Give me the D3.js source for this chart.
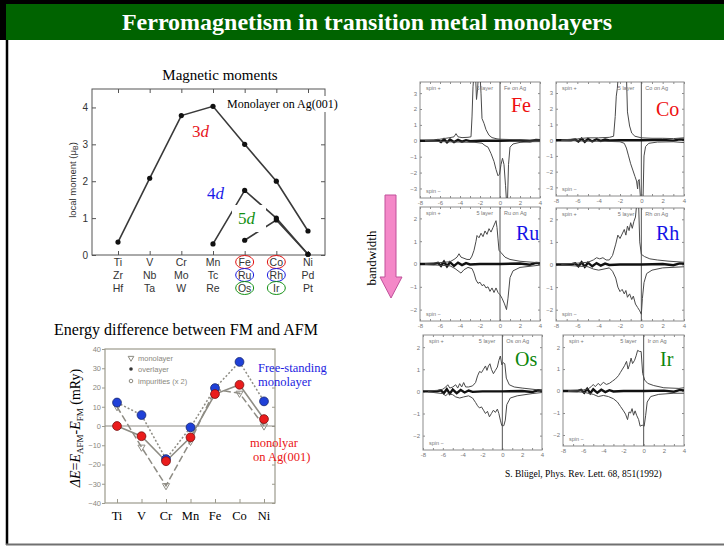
<!DOCTYPE html>
<html><head><meta charset="utf-8">
<script src="https://cdn.jsdelivr.net/npm/d3@7"></script>
<style>body{margin:0;background:#fff}svg{display:block}</style>
</head><body>
<svg id="slide" width="724" height="546"></svg>
<script>
// ---------- data ----------
const row3d = ["Ti","V","Cr","Mn","Fe","Co","Ni"];
const row4d = ["Zr","Nb","Mo","Tc","Ru","Rh","Pd"];
const row5d = ["Hf","Ta","W","Re","Os","Ir","Pt"];
const moment3d = [0.35, 2.08, 3.78, 4.03, 3.0, 2.0, 0.65];
const moment4d = [null, null, null, 0.3, 1.75, 1.0, 0.02];
const moment5d = [null, null, null, null, 0.4, 0.95, 0.02];
const momentTicks = [0, 1, 2, 3, 4];

const energyElems = ["Ti","V","Cr","Mn","Fe","Co","Ni"];
const monolayerDE = [10, -11, -31, -8, 19, 17, 0];
const overlayerDE = [0, -5.3, -18.3, -5.9, 16.6, 21.4, 3.6];
const impurityDE  = [12.2, 5.7, -17.2, -0.7, 19.7, 33.3, 12.8];
const energyTicks = [-40, -30, -20, -10, 0, 10, 20, 30, 40];
const legendItems = ["monolayer", "overlayer", "impurities (x 2)"];

// density of states, [energy (eV), states] for spin up / spin down
const feUp = [[-7.5,0.02],[-6.5,0.05],[-6,0.1],[-5.5,0.15],[-5,0.2],[-4.6,0.25],[-4.4,0.45],[-4.2,0.25],[-3.8,0.2],[-3.2,0.22],[-2.9,0.25],[-2.8,1.5],[-2.7,3.4],[-2.6,4.2],[-2.45,4.2],[-2.35,2.6],[-2.25,3.2],[-2.15,4.2],[-2.0,4.2],[-1.9,3.0],[-1.8,1.4],[-1.6,1.1],[-1.4,0.7],[-1.1,0.35],[-0.8,0.2],[-0.3,0.12],[0,0.1],[1,0.08],[2,0.06],[3,0.05],[4,0.05]];
const feDown = [[-7.5,-0.02],[-6,-0.05],[-4,-0.08],[-2.5,-0.1],[-1.8,-0.15],[-1.5,-0.3],[-1.2,-0.4],[-0.9,-0.8],[-0.6,-1.3],[-0.4,-1.8],[-0.2,-2.2],[-0.05,-2.1],[0.1,-1.5],[0.25,-1.1],[0.4,-1.5],[0.55,-2.8],[0.65,-3.8],[0.75,-3.8],[0.85,-1.5],[1.0,-0.4],[1.3,-0.2],[2,-0.1],[3,-0.06],[4,-0.05]];
const coUp = [[-7.5,0.02],[-6,0.08],[-5.5,0.12],[-5,0.15],[-4,0.15],[-3,0.18],[-2.6,0.25],[-2.45,1.5],[-2.35,2.8],[-2.25,3.3],[-2.15,4.2],[-1.4,4.2],[-1.3,1.8],[-1.1,0.9],[-0.9,0.45],[-0.6,0.25],[0,0.15],[1,0.12],[2,0.12],[3,0.1],[4,0.15]];
const coDown = [[-7.5,-0.02],[-5,-0.06],[-3,-0.08],[-2,-0.1],[-1.6,-0.2],[-1.4,-0.5],[-1.2,-1.0],[-1.0,-1.5],[-0.8,-1.9],[-0.6,-2.3],[-0.45,-2.6],[-0.35,-3.1],[-0.3,-2.6],[-0.2,-2.5],[-0.1,-3.5],[0.0,-4],[0.15,-4],[0.25,-1.0],[0.4,-0.4],[0.7,-0.2],[1.5,-0.12],[3,-0.1],[4,-0.15]];
const ruUp = [[-7.5,0.02],[-6,0.06],[-5,0.1],[-4.6,0.2],[-4.3,0.3],[-4.1,0.45],[-3.9,0.3],[-3.6,0.25],[-3.3,0.2],[-3.0,0.2],[-2.8,0.35],[-2.6,0.6],[-2.4,1.0],[-2.3,1.25],[-2.1,1.15],[-1.9,1.35],[-1.7,1.2],[-1.5,1.45],[-1.3,1.3],[-1.1,1.55],[-0.9,1.4],[-0.7,1.6],[-0.55,1.75],[-0.4,1.9],[-0.3,1.6],[-0.2,1.1],[-0.1,0.6],[0.1,0.5],[0.5,0.3],[1.0,0.2],[2,0.12],[4,0.05]];
const ruDown = [[-7.5,-0.02],[-5,-0.08],[-4.5,-0.2],[-4.2,-0.3],[-3.9,-0.4],[-3.6,-0.25],[-3.2,-0.15],[-2.8,-0.2],[-2.6,-0.4],[-2.4,-0.7],[-2.2,-0.85],[-2.0,-0.8],[-1.8,-0.95],[-1.6,-0.9],[-1.4,-1.05],[-1.2,-1.0],[-1.0,-1.2],[-0.8,-1.05],[-0.6,-1.25],[-0.4,-1.05],[-0.2,-1.25],[0,-1.35],[0.2,-1.5],[0.45,-1.75],[0.65,-2.0],[0.8,-1.5],[1.0,-0.6],[1.3,-0.3],[2,-0.15],[4,-0.05]];
const rhUp = [[-7.5,0.02],[-6,0.06],[-5,0.1],[-4.5,0.2],[-4.2,0.3],[-3.9,0.25],[-3.6,0.3],[-3.3,0.2],[-3.0,0.2],[-2.7,0.4],[-2.4,0.9],[-2.2,1.3],[-2.0,1.15],[-1.8,1.35],[-1.6,1.55],[-1.45,1.3],[-1.3,1.7],[-1.15,1.5],[-1.0,1.85],[-0.85,1.6],[-0.7,1.9],[-0.55,2.1],[-0.45,2.6],[-0.35,3],[-0.25,2.6],[-0.15,1.0],[0,0.45],[0.3,0.35],[0.8,0.25],[1.5,0.2],[2.5,0.15],[4,0.1]];
const rhDown = [[-7.5,-0.02],[-5,-0.1],[-4.5,-0.2],[-4,-0.25],[-3.5,-0.2],[-3,-0.15],[-2.7,-0.3],[-2.4,-0.6],[-2.2,-1.0],[-2.0,-1.2],[-1.8,-1.1],[-1.6,-1.3],[-1.45,-1.15],[-1.3,-1.45],[-1.1,-1.3],[-0.9,-1.55],[-0.75,-1.4],[-0.55,-1.75],[-0.35,-1.9],[-0.15,-2.05],[0.0,-2.2],[0.1,-1.5],[0.25,-0.8],[0.5,-0.4],[1,-0.25],[2,-0.15],[4,-0.1]];
const osUp = [[-7.5,0.02],[-6.5,0.05],[-6,0.1],[-5.7,0.2],[-5.5,0.3],[-5.3,0.15],[-5,0.2],[-4.7,0.3],[-4.5,0.15],[-4.3,0.35],[-4.1,0.2],[-3.9,0.4],[-3.7,0.2],[-3.4,0.2],[-3.0,0.25],[-2.7,0.4],[-2.5,0.7],[-2.3,0.9],[-2.1,0.85],[-1.9,1.0],[-1.7,1.15],[-1.55,0.95],[-1.4,1.15],[-1.25,1.25],[-1.1,1.0],[-0.9,0.8],[-0.7,0.95],[-0.5,1.1],[-0.35,1.4],[-0.2,1.6],[-0.05,1.2],[0.1,1.3],[0.25,1.25],[0.4,0.6],[0.7,0.3],[1.2,0.2],[2,0.15],[4,0.05]];
const osDown = [[-7.5,-0.02],[-6,-0.1],[-5.7,-0.2],[-5.5,-0.1],[-5,-0.15],[-4.7,-0.25],[-4.3,-0.3],[-3.9,-0.25],[-3.4,-0.2],[-3.0,-0.3],[-2.7,-0.5],[-2.5,-0.65],[-2.3,-0.75],[-2.1,-0.7],[-1.9,-0.85],[-1.7,-1.0],[-1.5,-0.9],[-1.3,-1.15],[-1.1,-1.0],[-0.9,-0.85],[-0.7,-0.95],[-0.5,-0.8],[-0.35,-1.0],[-0.2,-1.3],[-0.05,-1.55],[0.15,-1.55],[0.3,-1.3],[0.45,-0.6],[0.8,-0.3],[1.5,-0.2],[3,-0.1],[4,-0.05]];
const irUp = [[-7.5,0.02],[-6,0.05],[-5.5,0.1],[-5.2,0.2],[-5,0.3],[-4.8,0.2],[-4.5,0.35],[-4.3,0.25],[-4.0,0.4],[-3.7,0.3],[-3.4,0.35],[-3.1,0.45],[-2.8,0.55],[-2.5,0.7],[-2.3,0.85],[-2.1,1.0],[-1.9,1.15],[-1.7,1.35],[-1.55,1.0],[-1.4,1.2],[-1.25,1.5],[-1.1,1.25],[-0.9,1.4],[-0.75,1.6],[-0.6,1.85],[-0.4,1.8],[-0.25,1.8],[-0.1,0.8],[0.1,0.5],[0.4,0.35],[1,0.25],[2,0.15],[3.5,0.12],[4,0.15]];
const irDown = [[-7.5,-0.02],[-6,-0.05],[-5,-0.15],[-4.5,-0.25],[-4,-0.2],[-3.5,-0.25],[-3.0,-0.35],[-2.6,-0.5],[-2.3,-0.7],[-2.0,-0.9],[-1.8,-1.05],[-1.6,-1.3],[-1.45,-0.95],[-1.3,-1.0],[-1.15,-0.8],[-1.0,-1.1],[-0.85,-0.9],[-0.7,-1.1],[-0.5,-1.3],[-0.35,-1.6],[-0.15,-1.55],[0.05,-1.6],[0.2,-1.1],[0.35,-0.5],[0.7,-0.25],[1.5,-0.15],[3,-0.1],[4,-0.1]];
// Ag substrate contribution hugging the zero line
const agBand = [[-8,0],[-6.6,0],[-6.2,0.05],[-5.9,-0.08],[-5.6,0.1],[-5.3,-0.1],[-5.0,0.08],[-4.6,-0.08],[-4.2,0.06],[-3.8,-0.05],[-3.4,0.04],[-3.0,-0.02],[-2,0],[0,0],[2,0.02],[3,-0.03],[3.6,0.05],[4,0.03]];
const energyTickLabels = [-8, -6, -4, -2, 0, 2, 4];

// ---------- drawing ----------
const serif = "'Liberation Serif','Times New Roman',serif";
const sans = "'Liberation Sans',Arial,sans-serif";
const svg = d3.select("#slide");

// slide frame and title bar
svg.append("rect").attr("width", 724).attr("height", 546).attr("fill", "#fff");
svg.append("rect").attr("x", 0).attr("y", 0).attr("width", 724).attr("height", 4).attr("fill", "#000");
svg.append("rect").attr("x", 0).attr("y", 0).attr("width", 6).attr("height", 40).attr("fill", "#000");
svg.append("rect").attr("x", 6).attr("y", 4).attr("width", 718).attr("height", 36).attr("fill", "#006300");
svg.append("line").attr("x1", 7).attr("x2", 7).attr("y1", 40).attr("y2", 545).attr("stroke", "#000").attr("stroke-width", 2.5);
svg.append("line").attr("x1", 6).attr("x2", 724).attr("y1", 544.5).attr("y2", 544.5).attr("stroke", "#707070").attr("stroke-width", 2);
svg.append("text").attr("x", 367).attr("y", 30).attr("text-anchor", "middle")
  .attr("font-family", serif).attr("font-weight", "bold").attr("font-size", 24).attr("fill", "#fff")
  .text("Ferromagnetism in transition metal monolayers");

// ===== magnetic moments =====
(function () {
  const g = svg.append("g");
  const x = d3.scalePoint().domain(d3.range(7)).range([118, 308]);
  const y = d3.scaleLinear().domain([0, 4.5]).range([255, 89]);
  const [L, R] = [92, 325];

  g.append("text").attr("x", 220).attr("y", 80).attr("text-anchor", "middle")
    .attr("font-family", serif).attr("font-size", 15).text("Magnetic moments");

  g.append("rect").attr("x", L).attr("y", y(4.5)).attr("width", R - L).attr("height", y(0) - y(4.5))
    .attr("fill", "none").attr("stroke", "#555").attr("stroke-width", 1);

  const styleAxis = a => { a.select(".domain").remove(); a.selectAll("line").attr("stroke", "#555"); a.selectAll("text").attr("font-family", sans).attr("font-size", 10).attr("fill", "#333"); };
  g.append("g").attr("transform", `translate(${L},0)`).call(d3.axisLeft(y).tickValues(momentTicks).tickSize(-4).tickPadding(4).tickFormat(d3.format("d"))).call(styleAxis);
  g.append("g").attr("transform", `translate(${R},0)`).call(d3.axisRight(y).tickValues(momentTicks).tickSize(-4).tickFormat("")).call(styleAxis);
  g.append("g").attr("transform", `translate(0,${y(4.5)})`).call(d3.axisTop(x).tickSize(-4).tickFormat("")).call(styleAxis);
  g.append("g").attr("transform", `translate(0,${y(0)})`).call(d3.axisBottom(x).tickSize(-4).tickFormat("")).call(styleAxis);

  g.append("text").attr("transform", "translate(76,180) rotate(-90)").attr("text-anchor", "middle")
    .attr("font-family", sans).attr("font-size", 9.5).attr("fill", "#333")
    .call(t => { t.append("tspan").text("local moment (\u03bc"); t.append("tspan").attr("dy", 2).attr("font-size", 7).text("B"); t.append("tspan").attr("dy", -2).text(")"); });

  [row3d, row4d, row5d].forEach((row, r) => {
    g.append("g").selectAll("text").data(row).join("text")
      .attr("x", (d, i) => x(i)).attr("y", 266 + r * 13).attr("text-anchor", "middle")
      .attr("font-family", sans).attr("font-size", 10.5).attr("fill", "#333").text(d => d);
  });
  const ringColors = ["#e01010", "#1a1ae0", "#139013"];
  ringColors.forEach((c, r) => {
    [4, 5].forEach(i => g.append("ellipse").attr("cx", x(i)).attr("cy", 262 + r * 13).attr("rx", 9).attr("ry", 6.5)
      .attr("fill", "none").attr("stroke", c).attr("stroke-width", 1));
  });

  const line = d3.line().defined(d => d != null).x((d, i) => x(i)).y(d => y(d));
  [moment3d, moment4d, moment5d].forEach(series => {
    const pts = series.map((v, i) => v == null ? null : [i, v]).filter(Boolean);
    g.append("path").datum(series).attr("d", line).attr("fill", "none").attr("stroke", "#3a3a3a").attr("stroke-width", 1.6);
    g.append("g").selectAll("circle").data(pts).join("circle")
      .attr("cx", d => x(d[0])).attr("cy", d => y(d[1])).attr("r", 2.6).attr("fill", "#111");
  });

  // label boxes
  g.append("rect").attr("x", 232).attr("y", 205).attr("width", 34).attr("height", 27).attr("fill", "#fff");
  g.append("rect").attr("x", 224).attr("y", 96).attr("width", 118).attr("height", 16).attr("fill", "#fff");
  g.append("text").attr("x", 227).attr("y", 108).attr("font-family", serif).attr("font-size", 12).text("Monolayer on Ag(001)");

  const shell = (txt, xx, yy, col) => g.append("text").attr("x", xx).attr("y", yy).attr("font-family", serif)
    .attr("font-size", 17).attr("fill", col)
    .call(t => { t.append("tspan").text(txt); t.append("tspan").attr("font-style", "italic").text("d"); });
  shell("3", 192, 137, "#e8141c");
  shell("4", 207, 199, "#1a1ae8");
  shell("5", 238, 224, "#139013");
})();

// ===== energy difference FM / AFM =====
(function () {
  const g = svg.append("g");
  const x = d3.scalePoint().domain(d3.range(7)).range([117, 264]);
  const y = d3.scaleLinear().domain([-40, 40]).range([503, 349]);
  const [L, R] = [105, 275];
  const frameCol = "#9c9a8c", lineCol = "#8e8c84";

  g.append("text").attr("x", 186).attr("y", 335).attr("text-anchor", "middle")
    .attr("font-family", serif).attr("font-size", 16).text("Energy difference between FM and AFM");

  g.append("rect").attr("x", L).attr("y", y(40)).attr("width", R - L).attr("height", y(-40) - y(40))
    .attr("fill", "none").attr("stroke", frameCol).attr("stroke-width", 1.2);
  const styleAxis = a => { a.select(".domain").remove(); a.selectAll("line").attr("stroke", frameCol); a.selectAll("text").attr("font-family", sans).attr("font-size", 7.5).attr("fill", "#8a887e"); };
  g.append("g").attr("transform", `translate(${L},0)`).call(d3.axisLeft(y).tickValues(energyTicks).tickSize(3).tickPadding(1)).call(styleAxis);
  g.append("g").attr("transform", `translate(${R},0)`).call(d3.axisRight(y).tickValues(energyTicks).tickSize(-3).tickFormat("")).call(styleAxis);
  g.append("g").attr("transform", `translate(0,${y(-40)})`).call(d3.axisBottom(x).tickSize(-4).tickFormat("")).call(styleAxis);

  g.append("line").attr("x1", L).attr("x2", R).attr("y1", y(0)).attr("y2", y(0)).attr("stroke", lineCol).attr("stroke-width", 1.2);

  const line = d3.line().x((d, i) => x(i)).y(d => y(d));
  g.append("path").datum(monolayerDE).attr("d", line).attr("fill", "none").attr("stroke", lineCol).attr("stroke-width", 1.5).attr("stroke-dasharray", "7,3");
  g.append("path").datum(overlayerDE).attr("d", line).attr("fill", "none").attr("stroke", lineCol).attr("stroke-width", 1.6);
  g.append("path").datum(impurityDE).attr("d", line).attr("fill", "none").attr("stroke", lineCol).attr("stroke-width", 1.5).attr("stroke-dasharray", "2,2");
  const tri = d3.symbol().type(d3.symbolTriangle).size(22);
  g.append("g").selectAll("path").data(monolayerDE).join("path")
    .attr("d", tri).attr("transform", (d, i) => `translate(${x(i)},${y(d)}) rotate(180)`)
    .attr("fill", "none").attr("stroke", lineCol).attr("stroke-width", 1);

  g.append("g").selectAll("circle").data(impurityDE).join("circle")
    .attr("cx", (d, i) => x(i)).attr("cy", d => y(d)).attr("r", 4.4)
    .attr("fill", "#1f40d8").attr("stroke", "#14246e").attr("stroke-width", 0.8);
  g.append("g").selectAll("circle").data(overlayerDE).join("circle")
    .attr("cx", (d, i) => x(i)).attr("cy", d => y(d)).attr("r", 4.4)
    .attr("fill", "#ea1c1c").attr("stroke", "#7a1010").attr("stroke-width", 0.8);

  // legend
  const ly = [358, 369, 381];
  legendItems.forEach((t, i) => {
    g.append("text").attr("x", 138).attr("y", ly[i] + 2.5).attr("font-family", sans).attr("font-size", 7.5)
      .attr("fill", "#8a887e").text(t);
  });
  g.append("path").attr("d", d3.symbol().type(d3.symbolTriangle).size(14)).attr("transform", `translate(131,${ly[0]}) rotate(180)`)
    .attr("fill", "none").attr("stroke", "#8a887e");
  g.append("circle").attr("cx", 131).attr("cy", ly[1]).attr("r", 1.8).attr("fill", "#333");
  g.append("circle").attr("cx", 131).attr("cy", ly[2]).attr("r", 1.8).attr("fill", "none").attr("stroke", "#8a887e");

  // axis title
  g.append("text").attr("transform", "translate(80,428) rotate(-90)").attr("text-anchor", "middle")
    .attr("font-family", serif).attr("font-size", 14)
    .call(t => {
      t.append("tspan").attr("font-style", "italic").text("\u0394E");
      t.append("tspan").text("=");
      t.append("tspan").attr("font-style", "italic").text("E");
      t.append("tspan").attr("dy", 3).attr("font-size", 9).text("AFM");
      t.append("tspan").attr("dy", -3).text("-");
      t.append("tspan").attr("font-style", "italic").text("E");
      t.append("tspan").attr("dy", 3).attr("font-size", 9).text("FM");
      t.append("tspan").attr("dy", -3).text(" (mRy)");
    });

  g.append("g").selectAll("text").data(energyElems).join("text")
    .attr("x", (d, i) => x(i)).attr("y", 520).attr("text-anchor", "middle")
    .attr("font-family", serif).attr("font-size", 12.5).text(d => d);

  const note = (t, xx, yy, c) => g.append("text").attr("x", xx).attr("y", yy).attr("font-family", serif).attr("font-size", 12.5).attr("fill", c).text(t);
  note("Free-standing", 258, 372, "#1c1ce0");
  note("monolayer", 258, 386, "#1c1ce0");
  note("monolyar", 250, 447, "#ea1414");
  note("on Ag(001)", 253, 461, "#ea1414");
})();

// ===== bandwidth arrow =====
svg.append("text").attr("transform", "translate(376,258) rotate(-90)").attr("text-anchor", "middle")
  .attr("font-family", serif).attr("font-size", 13).text("bandwidth");
svg.append("path").attr("d", "M385,195 L396,195 L396,277 L402,277 L391,298 L380,277 L385,277 Z")
  .attr("fill", "#f488c8").attr("stroke", "#c0509a").attr("stroke-width", 1);

// ===== DOS panels =====
const panels = [
  { key: "Fe", up: feUp, down: feDown, color: "#ee1010", box: [420, 540, 82, 198], yDom: [-3.6, 3.7], ticks: [-3, -2, -1, 0, 1, 2, 3], lab: [511, 112] },
  { key: "Co", up: coUp, down: coDown, color: "#ee1010", box: [556, 684, 82, 196], yDom: [-3.55, 3.7], ticks: [-3, -2, -1, 0, 1, 2, 3], lab: [656, 116] },
  { key: "Ru", up: ruUp, down: ruDown, color: "#1414e6", box: [420, 540, 207, 321], yDom: [-2.5, 2.5], ticks: [-2, -1, 0, 1, 2], lab: [516, 240] },
  { key: "Rh", up: rhUp, down: rhDown, color: "#1414e6", box: [556, 684, 208, 321], yDom: [-2.5, 2.5], ticks: [-2, -1, 0, 1, 2], lab: [656, 240] },
  { key: "Os", up: osUp, down: osDown, color: "#0c860c", box: [423, 542, 335, 450], yDom: [-2.65, 2.55], ticks: [-2, -1, 0, 1, 2], lab: [515, 366] },
  { key: "Ir", up: irUp, down: irDown, color: "#0c860c", box: [563, 684, 335, 446], yDom: [-2.5, 2.55], ticks: [-2, -1, 0, 1, 2], lab: [660, 366] }
];

panels.forEach((p, k) => {
  const [x0, x1, y0, y1] = p.box;
  const g = svg.append("g");
  const x = d3.scaleLinear().domain([-8, 4]).range([x0, x1]);
  const y = d3.scaleLinear().domain(p.yDom).range([y1, y0]);
  const frameCol = "#8c8c8c";
  const cid = "dosclip" + k;
  svg.append("clipPath").attr("id", cid).append("rect").attr("x", x0).attr("y", y0).attr("width", x1 - x0).attr("height", y1 - y0);

  g.append("rect").attr("x", x0).attr("y", y0).attr("width", x1 - x0).attr("height", y1 - y0)
    .attr("fill", "#fff").attr("stroke", frameCol).attr("stroke-width", 1);
  const styleAxis = a => { a.select(".domain").remove(); a.selectAll("line").attr("stroke", frameCol); a.selectAll("text").attr("font-family", sans).attr("font-size", 6).attr("fill", "#777"); };
  g.append("g").attr("transform", `translate(${x0},0)`).call(d3.axisLeft(y).tickValues(p.ticks).tickSize(-2).tickPadding(3).tickFormat(d3.format("d"))).call(styleAxis);
  g.append("g").attr("transform", `translate(${x1},0)`).call(d3.axisRight(y).tickValues(p.ticks).tickSize(-2).tickFormat("")).call(styleAxis);
  g.append("g").attr("transform", `translate(0,${y1})`).call(d3.axisBottom(x).tickValues(d3.range(-8, 5)).tickSize(-2).tickPadding(3)
    .tickFormat(d => energyTickLabels.includes(d) ? d : "")).call(styleAxis);
  g.append("g").attr("transform", `translate(0,${y0})`).call(d3.axisTop(x).tickValues(d3.range(-8, 5)).tickSize(-2).tickFormat("")).call(styleAxis);

  const plot = g.append("g").attr("clip-path", `url(#${cid})`);
  plot.append("line").attr("x1", x(0)).attr("x2", x(0)).attr("y1", y0).attr("y2", y1).attr("stroke", "#555").attr("stroke-width", 1);
  const line = d3.line().x(d => x(d[0])).y(d => y(d[1]));
  plot.append("path").datum(agBand).attr("d", line).attr("fill", "none").attr("stroke", "#111").attr("stroke-width", 2.4);
  [p.up, p.down].forEach(s => plot.append("path").datum(s).attr("d", line).attr("fill", "none").attr("stroke", "#4a4a4a").attr("stroke-width", 1));

  const small = (t, xx, yy, anchor) => g.append("text").attr("x", xx).attr("y", yy).attr("text-anchor", anchor || "start")
    .attr("font-family", sans).attr("font-size", 5.5).attr("fill", "#777").text(t);
  small("spin +", x0 + 6, y0 + 8);
  small("5 layer", x(0) - 7, y0 + 8, "end");
  small(p.key + " on Ag", x(0) + 4, y0 + 8);
  small("spin \u2212", x0 + 6, y1 - 5);

  g.append("text").attr("x", p.lab[0]).attr("y", p.lab[1]).attr("font-family", serif).attr("font-size", 20)
    .attr("fill", p.color).text(p.key);
});

svg.append("text").attr("x", 505).attr("y", 477).attr("font-family", serif).attr("font-size", 9.5)
  .text("S. Bl\u00fcgel, Phys. Rev. Lett. 68, 851(1992)");
</script></body></html>
